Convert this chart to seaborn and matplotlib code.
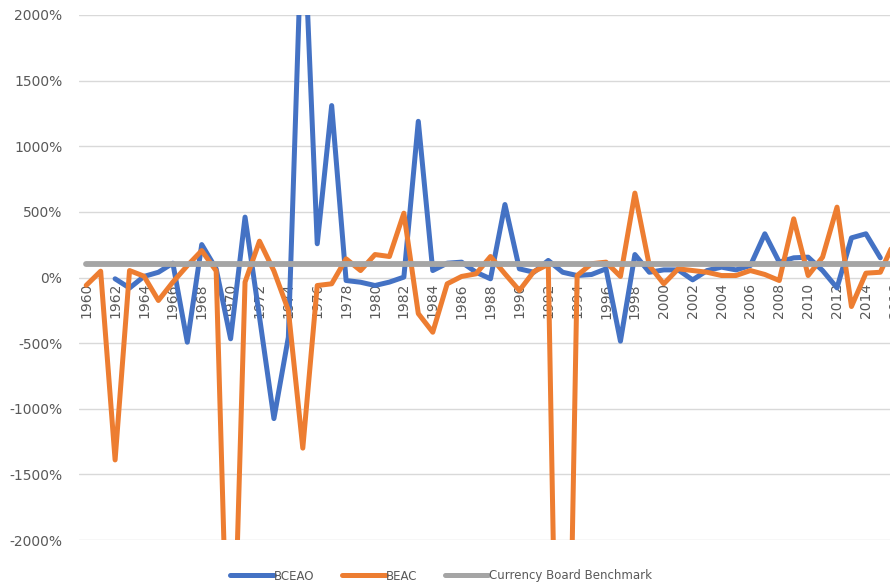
import numpy as np
import pandas as pd
import matplotlib.pyplot as plt
import seaborn as sns
from matplotlib.ticker import FuncFormatter

# --- DATA (% values) ---
years = list(range(1960, 2017))
bceao = [np.nan, np.nan, -10, -80, 8, 40, 109, -493, 251, 66,
         -467, 460, -300, -1075, -455, 2900, 257, 1310, -23, -36,
         -61, -35, 3, 1190, 53, 109, 117, 40, -10, 556,
         66, 40, 130, 40, 15, 23, 66, -485, 175, 40,
         58, 58, -18, 53, 79, 58, 91, 333, 117, 150,
         155, 53, -79, 302, 333, 150, np.nan]
beac = [-60, 48, -1390, 53, 10, -175, -35, 90, 205, 50,
        -3800, -35, 277, 50, -250, -1300, -61, -48, 142, 53,
        175, 160, 490, -275, -417, -48, 8, 28, 160, 28,
        -99, 45, 100, -6000, 15, 105, 117, 8, 643, 91,
        -48, 66, 53, 40, 15, 15, 53, 23, -23, 447,
        15, 155, 536, -221, 33, 40, 280]
benchmark = [100] * len(years)

series_names = ["BCEAO", "BEAC", "Currency Board Benchmark"]
colors = ["#4472C4", "#ED7D31", "#A5A5A5"]

df = pd.DataFrame({"year": years, "BCEAO": bceao, "BEAC": beac,
                   "Currency Board Benchmark": benchmark})
long_df = df.melt(id_vars="year", var_name="series", value_name="value").dropna()

# --- PLOT ---
sns.set_style("white")
plt.rcParams['font.family'] = ['DejaVu Sans']
text_col = "#595959"

fig = plt.figure(figsize=(8.9, 5.88), dpi=100)
# axes runs a bit past the right edge, like the cropped original
ax = fig.add_axes([79 / 890, 48 / 588, 823 / 890, 525 / 588])

sns.lineplot(data=long_df, x="year", y="value", hue="series",
             hue_order=series_names, palette=colors, ax=ax,
             linewidth=3.6, solid_joinstyle="round", solid_capstyle="round")
# the benchmark line is a bit thicker
ax.lines[2].set_linewidth(4.2)

ax.set_xlim(1959.5, 2016.5)
ax.set_ylim(-2000, 2000)
ax.set_yticks(range(-2000, 2001, 500))
ax.yaxis.set_major_formatter(FuncFormatter(lambda v, p: f"{int(v)}%"))
ax.set_xticks(range(1960, 2017, 2))
ax.set_xlabel("")
ax.set_ylabel("")

ax.grid(axis="y", color="#D9D9D9", linewidth=1)
ax.set_axisbelow(True)
for s in ax.spines.values():
    s.set_visible(False)
ax.spines["bottom"].set_position(("data", 0))

ax.tick_params(axis="y", length=0, pad=12, labelsize=10, labelcolor=text_col)
ax.tick_params(axis="x", length=0, pad=4, labelsize=10, labelcolor=text_col,
               labelrotation=90)
for lab in ax.get_xticklabels():
    lab.set_verticalalignment("top")

handles, labels = ax.get_legend_handles_labels()
ax.get_legend().remove()
leg = fig.legend(handles, labels, loc="center", bbox_to_anchor=(441 / 890, 1 - 576 / 588),
                 ncol=3, frameon=False, fontsize=8.5, handlelength=3.7,
                 handletextpad=0.05, columnspacing=2.3)
for t in leg.get_texts():
    t.set_color(text_col)

fig.savefig("out.png", dpi=100)
